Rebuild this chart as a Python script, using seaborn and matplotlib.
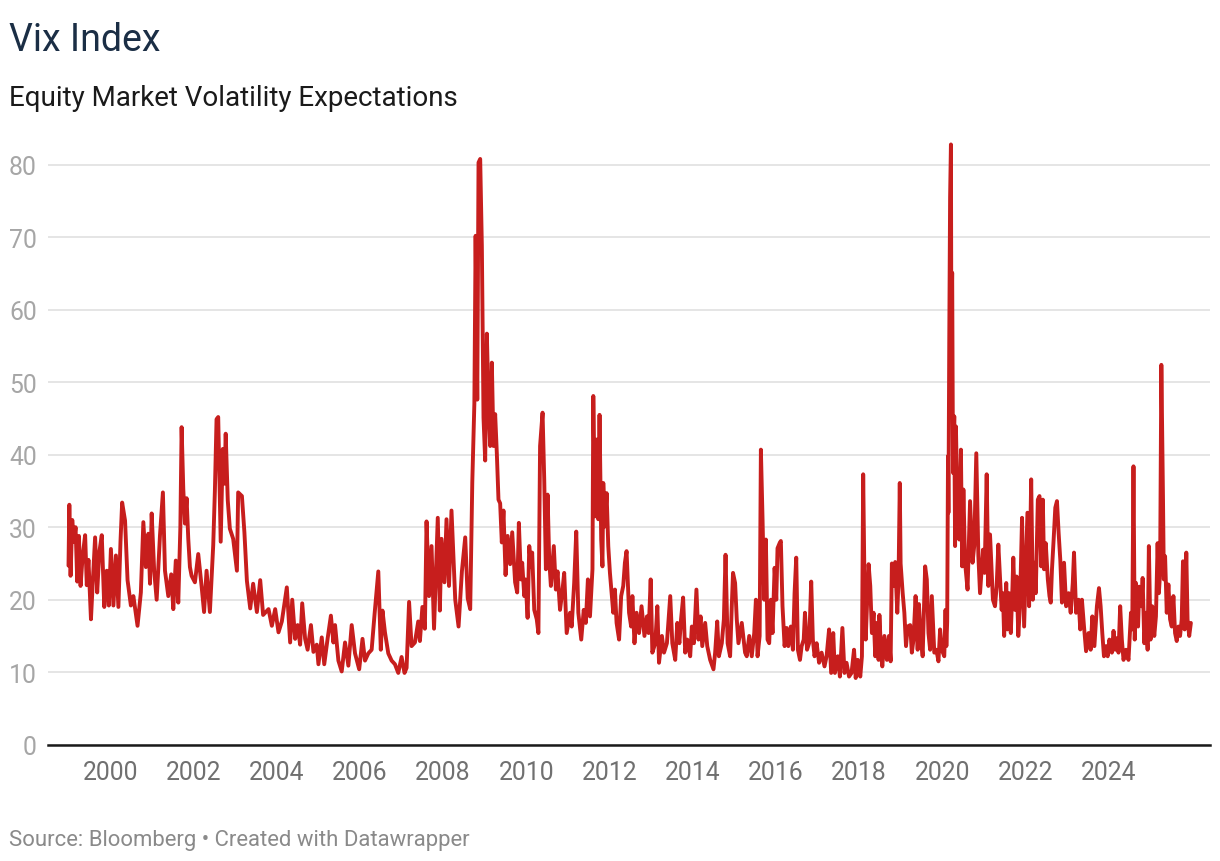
import numpy as np
import pandas as pd
import matplotlib
matplotlib.use("Agg")
import matplotlib.pyplot as plt
import seaborn as sns

# ---- data (decimal year, VIX level) ----
dates_a = [1998.99, 1999.01, 1999.04, 1999.08, 1999.12, 1999.16, 1999.20, 1999.24, 1999.28, 1999.33,
           1999.39, 1999.43, 1999.47, 1999.53, 1999.57, 1999.63, 1999.68, 1999.73, 1999.79, 1999.85,
           1999.91, 1999.96, 2000.01, 2000.07, 2000.13, 2000.19, 2000.24, 2000.28, 2000.35, 2000.41,
           2000.49, 2000.55, 2000.65, 2000.73, 2000.79, 2000.85, 2000.91, 2000.95, 2000.99, 2001.05,
           2001.11, 2001.19, 2001.26, 2001.31, 2001.39, 2001.46, 2001.51, 2001.57, 2001.63, 2001.68,
           2001.71, 2001.75, 2001.79, 2001.83, 2001.87, 2001.91, 2001.95, 2002.03, 2002.11, 2002.19,
           2002.25, 2002.31, 2002.39, 2002.47, 2002.51, 2002.55, 2002.59, 2002.65, 2002.70, 2002.74,
           2002.77, 2002.82, 2002.87, 2002.95, 2003.04, 2003.07, 2003.16, 2003.22, 2003.28, 2003.36,
           2003.43, 2003.52, 2003.60, 2003.67, 2003.80, 2003.88, 2003.96, 2004.04, 2004.12]
vix_a = [24.7, 33.1, 23.3, 31.0, 28.0, 30.0, 22.5, 28.8, 21.9, 26.0,
         28.9, 22.0, 25.5, 17.3, 22.0, 28.6, 21.0, 26.5, 28.9, 19.0,
         24.0, 19.2, 27.0, 19.2, 26.1, 19.0, 28.0, 33.4, 30.9, 22.7,
         19.2, 20.5, 16.4, 21.0, 30.7, 24.5, 29.1, 22.2, 31.9, 24.0,
         20.0, 28.9, 34.8, 24.0, 20.5, 23.5, 18.7, 25.4, 19.6, 30.0,
         43.8, 35.3, 30.5, 34.0, 28.4, 24.5, 23.3, 22.4, 26.3, 21.9,
         18.3, 24.0, 18.3, 27.5, 35.0, 44.9, 45.2, 28.0, 40.8, 36.0,
         42.9, 33.7, 29.8, 28.4, 24.0, 34.8, 34.3, 29.3, 22.6, 18.8,
         22.2, 18.3, 22.7, 17.9, 18.7, 16.4, 18.7, 15.5, 17.0]

dates_b = [2004.24, 2004.32, 2004.37, 2004.44, 2004.50, 2004.56, 2004.61, 2004.68, 2004.74, 2004.82,
           2004.88, 2004.96, 2005.00, 2005.08, 2005.14, 2005.22, 2005.30, 2005.36, 2005.40, 2005.48,
           2005.56, 2005.64, 2005.72, 2005.80, 2005.88, 2005.98, 2006.06, 2006.12, 2006.20, 2006.28,
           2006.35, 2006.44, 2006.50, 2006.54, 2006.60, 2006.68, 2006.76, 2006.84, 2006.92, 2007.00,
           2007.07, 2007.12, 2007.18, 2007.24, 2007.32, 2007.40, 2007.44, 2007.50, 2007.56, 2007.60,
           2007.66, 2007.72, 2007.78, 2007.87, 2007.92, 2007.96, 2008.03, 2008.08, 2008.14, 2008.20,
           2008.29, 2008.37, 2008.45, 2008.53, 2008.59, 2008.65, 2008.70, 2008.75, 2008.78, 2008.82,
           2008.85, 2008.89, 2008.93, 2008.97, 2009.01, 2009.05, 2009.09, 2009.13, 2009.17, 2009.21,
           2009.25, 2009.29, 2009.33, 2009.37, 2009.41, 2009.45, 2009.50, 2009.55, 2009.61, 2009.66,
           2009.73, 2009.78]
vix_b = [21.7, 14.1, 20.0, 14.6, 16.5, 13.8, 19.5, 14.6, 13.1, 16.5,
         12.8, 13.8, 11.1, 14.8, 11.1, 14.6, 17.8, 14.1, 16.5, 11.6,
         10.1, 14.1, 10.9, 16.5, 12.6, 10.4, 14.6, 11.6, 12.6, 13.1,
         18.0, 23.9, 13.1, 18.5, 15.5, 12.6, 11.6, 11.1, 9.9, 12.1,
         9.9, 10.6, 19.7, 13.6, 14.1, 17.0, 14.3, 19.0, 16.0, 30.8,
         20.5, 27.4, 16.0, 31.3, 18.5, 28.4, 22.4, 31.1, 21.9, 32.3,
         20.0, 16.3, 23.9, 28.6, 20.2, 18.7, 36.2, 47.1, 70.2, 47.6,
         80.3, 80.8, 68.8, 45.1, 39.2, 56.7, 47.1, 41.2, 52.7, 41.2,
         45.6, 40.2, 33.8, 33.3, 27.9, 32.3, 23.4, 28.8, 24.9, 29.3,
         22.4, 21.0]

dates_c = [2009.82, 2009.87, 2009.90, 2009.95, 2009.98, 2010.03, 2010.07, 2010.11, 2010.14, 2010.19,
           2010.25, 2010.29, 2010.33, 2010.39, 2010.43, 2010.47, 2010.51, 2010.55, 2010.59, 2010.66,
           2010.71, 2010.75, 2010.81, 2010.87, 2010.91, 2010.97, 2011.05, 2011.09, 2011.15, 2011.20,
           2011.25, 2011.32, 2011.38, 2011.43, 2011.48, 2011.53, 2011.59, 2011.61, 2011.65, 2011.69,
           2011.73, 2011.76, 2011.80, 2011.83, 2011.85, 2011.89, 2011.93, 2011.97, 2012.01, 2012.05,
           2012.09, 2012.13, 2012.17, 2012.23, 2012.28, 2012.33, 2012.37, 2012.41, 2012.47, 2012.52,
           2012.55, 2012.60, 2012.65, 2012.71, 2012.77, 2012.84, 2012.90, 2012.94, 2012.99, 2013.03,
           2013.10, 2013.15, 2013.19, 2013.26, 2013.31, 2013.38, 2013.42, 2013.46, 2013.51, 2013.58,
           2013.63, 2013.68, 2013.72, 2013.77, 2013.82, 2013.87, 2013.94, 2013.98, 2014.03, 2014.09,
           2014.14, 2014.19, 2014.23, 2014.30, 2014.35, 2014.42, 2014.50, 2014.54, 2014.59, 2014.63,
           2014.70, 2014.75, 2014.79, 2014.84, 2014.90, 2014.94, 2014.97, 2015.02, 2015.06, 2015.10,
           2015.18, 2015.26]
vix_c = [30.6, 22.8, 25.1, 20.5, 22.8, 17.5, 27.4, 24.6, 26.5, 18.6,
         17.3, 15.4, 41.2, 45.8, 36.6, 24.2, 34.5, 25.5, 21.9, 27.4,
         21.4, 23.9, 18.6, 21.4, 23.7, 15.4, 18.2, 16.3, 22.3, 29.4,
         18.2, 14.5, 18.6, 16.8, 22.8, 17.7, 24.2, 48.1, 31.5, 42.1,
         31.1, 45.5, 28.3, 24.6, 36.1, 30.1, 34.7, 27.4, 23.7, 20.9,
         18.2, 21.4, 16.8, 14.5, 20.5, 21.9, 25.1, 26.7, 18.2, 16.3,
         20.5, 14.0, 18.2, 15.4, 19.1, 15.0, 17.7, 15.4, 22.8, 12.7,
         14.0, 19.1, 11.3, 15.0, 12.7, 14.0, 17.3, 20.5, 14.0, 11.7,
         16.8, 14.0, 17.3, 20.3, 12.7, 14.5, 12.2, 16.3, 14.0, 21.4,
         14.5, 17.7, 13.6, 16.8, 13.6, 11.7, 10.4, 12.7, 17.0, 12.2,
         14.0, 17.3, 26.2, 14.0, 12.2, 19.1, 23.7, 22.3, 17.3, 14.0,
         16.8, 12.7]

dates_d = [2015.30, 2015.36, 2015.42, 2015.48, 2015.52, 2015.56, 2015.61, 2015.64, 2015.68, 2015.72,
           2015.76, 2015.80, 2015.84, 2015.88, 2015.92, 2015.97, 2016.01, 2016.04, 2016.09, 2016.12,
           2016.16, 2016.21, 2016.26, 2016.30, 2016.36, 2016.41, 2016.45, 2016.49, 2016.53, 2016.58,
           2016.62, 2016.67, 2016.70, 2016.75, 2016.80, 2016.85, 2016.89, 2016.93, 2016.98, 2017.04,
           2017.10, 2017.17, 2017.22, 2017.28, 2017.33, 2017.38, 2017.42, 2017.49, 2017.54, 2017.60,
           2017.65, 2017.70, 2017.76, 2017.82, 2017.88, 2017.92, 2017.97, 2018.03, 2018.07, 2018.10,
           2018.13, 2018.16, 2018.20, 2018.23, 2018.27, 2018.31, 2018.35, 2018.39, 2018.43, 2018.47,
           2018.49, 2018.53, 2018.56, 2018.61, 2018.67, 2018.72, 2018.76, 2018.79, 2018.83, 2018.87,
           2018.92, 2018.95, 2018.98, 2019.00, 2019.05, 2019.09, 2019.13, 2019.17, 2019.23, 2019.27,
           2019.31, 2019.36, 2019.41, 2019.44, 2019.48, 2019.53, 2019.59, 2019.63, 2019.67, 2019.71,
           2019.75, 2019.81, 2019.86, 2019.91, 2019.95, 2019.99, 2020.05, 2020.08, 2020.10]
vix_d = [12.2, 15.0, 12.2, 15.4, 20.0, 12.2, 15.0, 40.7, 31.1, 20.0,
         28.3, 14.5, 14.0, 20.0, 15.4, 24.4, 20.0, 27.1, 27.8, 28.1,
         19.1, 13.6, 16.1, 13.6, 16.3, 13.1, 20.9, 25.8, 13.1, 11.7,
         13.6, 14.5, 18.2, 13.1, 14.0, 22.5, 14.5, 12.2, 14.0, 11.3,
         12.7, 10.8, 12.2, 15.9, 9.9, 15.4, 9.9, 12.2, 9.4, 16.1,
         9.9, 11.3, 9.4, 9.9, 13.1, 9.2, 11.7, 9.4, 12.2, 37.3,
         22.8, 14.5, 20.5, 24.9, 21.9, 15.4, 18.2, 12.2, 16.8, 11.7,
         17.9, 12.7, 10.8, 15.0, 11.7, 15.0, 11.5, 25.0, 21.9, 25.2,
         18.2, 22.8, 36.1, 25.0, 20.9, 18.2, 13.6, 16.3, 16.5, 12.7,
         14.5, 20.5, 13.1, 19.4, 15.4, 12.2, 24.6, 22.8, 15.4, 13.1,
         20.5, 12.7, 13.1, 11.5, 15.9, 13.1, 12.2, 18.6, 13.6]

dates_e = [2020.12, 2020.14, 2020.15, 2020.17, 2020.19, 2020.21, 2020.22, 2020.24, 2020.26, 2020.29,
           2020.31, 2020.33, 2020.37, 2020.41, 2020.45, 2020.48, 2020.51, 2020.55, 2020.61, 2020.67,
           2020.73, 2020.77, 2020.82, 2020.87, 2020.91, 2020.98, 2021.02, 2021.07, 2021.11, 2021.15,
           2021.22, 2021.27, 2021.31, 2021.35, 2021.43]
vix_e = [17.0, 39.8, 32.0, 55.9, 75.5, 82.8, 57.0, 65.1, 37.5, 45.3,
         27.4, 43.9, 31.5, 28.3, 40.7, 24.6, 35.2, 25.1, 21.4, 33.6,
         25.1, 27.4, 40.2, 26.0, 20.9, 26.9, 23.7, 37.3, 21.9, 29.0,
         20.0, 19.1, 21.9, 27.6, 18.6]

dates_f = [2021.46, 2021.49, 2021.54, 2021.57, 2021.61, 2021.65, 2021.69, 2021.71, 2021.75, 2021.79,
           2021.83, 2021.87, 2021.92, 2021.97, 2022.01, 2022.05, 2022.09, 2022.14, 2022.18, 2022.22,
           2022.25, 2022.30, 2022.34, 2022.38, 2022.42, 2022.45, 2022.49, 2022.54, 2022.58, 2022.61,
           2022.64, 2022.68, 2022.72, 2022.76, 2022.80, 2022.84, 2022.88, 2022.93, 2022.98, 2023.04,
           2023.09, 2023.14, 2023.17, 2023.22, 2023.28, 2023.32, 2023.36, 2023.41, 2023.46, 2023.52,
           2023.57, 2023.61, 2023.66, 2023.72, 2023.77, 2023.81, 2023.85, 2023.89, 2023.94, 2023.98,
           2024.02, 2024.08, 2024.12, 2024.16, 2024.20, 2024.24, 2024.28, 2024.32, 2024.36, 2024.42,
           2024.48, 2024.54, 2024.57, 2024.60, 2024.63, 2024.66, 2024.71, 2024.74, 2024.79, 2024.82,
           2024.86, 2024.90, 2024.94, 2024.97, 2025.01, 2025.05, 2025.10, 2025.14, 2025.18, 2025.21,
           2025.24, 2025.27, 2025.31, 2025.33, 2025.36, 2025.40, 2025.44, 2025.48, 2025.52, 2025.56,
           2025.60, 2025.64, 2025.68, 2025.72, 2025.76, 2025.79, 2025.83, 2025.87, 2025.90, 2025.94,
           2025.98]
vix_f = [20.9, 15.0, 22.3, 15.9, 20.9, 15.4, 21.8, 25.8, 18.6, 23.2,
         15.0, 19.1, 31.3, 16.3, 24.2, 32.0, 19.1, 36.6, 20.0, 25.1,
         20.9, 33.8, 34.3, 24.6, 33.8, 24.2, 27.8, 22.8, 20.5, 19.6,
         24.2, 28.3, 32.7, 33.6, 29.2, 25.5, 19.6, 25.1, 19.1, 20.9,
         18.2, 22.3, 26.5, 18.2, 20.0, 15.9, 20.0, 16.3, 12.9, 15.4,
         13.1, 17.7, 13.6, 19.1, 21.6, 19.1, 15.4, 12.2, 13.6, 12.2,
         14.5, 12.7, 15.7, 13.1, 14.7, 12.7, 19.1, 14.5, 11.7, 13.1,
         11.7, 18.2, 15.9, 38.4, 14.5, 22.3, 16.3, 21.8, 19.1, 23.0,
         14.0, 18.2, 13.1, 27.4, 14.5, 19.1, 15.0, 17.7, 27.8, 20.9,
         23.7, 52.4, 33.8, 22.8, 26.0, 18.2, 22.1, 17.3, 16.3, 20.5,
         15.4, 14.3, 16.3, 15.0, 17.3, 25.3, 15.9, 26.5, 17.3, 15.0,
         16.8]

year_ticks = [2000, 2002, 2004, 2006, 2008, 2010, 2012, 2014, 2016, 2018, 2020, 2022, 2024]
value_ticks = [0, 10, 20, 30, 40, 50, 60, 70, 80]

title = "Vix Index"
subtitle = "Equity Market Volatility Expectations"
footer = "Source: Bloomberg \u2022 Created with Datawrapper"

# ---- build table ----
df = pd.DataFrame({
    "date": dates_a + dates_b + dates_c + dates_d + dates_e + dates_f,
    "vix": vix_a + vix_b + vix_c + vix_d + vix_e + vix_f,
})

sns.set_theme(style="white")
plt.rcParams["font.family"] = ["Roboto", "DejaVu Sans"]

W, H = 1220, 862
fig = plt.figure(figsize=(W / 100, H / 100), dpi=100)
ax = fig.add_axes([48 / W, 1 - 745.7 / H, 1162 / W, (745.7 - 129.5) / H])

sns.lineplot(data=df, x="date", y="vix", ax=ax, color="#c71e1d",
             linewidth=2.8, estimator=None, sort=True)
for l in ax.lines:
    l.set_solid_joinstyle("round")
    l.set_solid_capstyle("round")

ax.set_xlim(1998.497, 2026.44)
ax.set_ylim(0, 85)
ax.set_xticks(year_ticks)
ax.set_xticklabels([str(y) for y in year_ticks])
ax.set_yticks(value_ticks)
ax.set_yticklabels([str(v) for v in value_ticks])
ax.set_xlabel("")
ax.set_ylabel("")

for s in ["top", "right", "left"]:
    ax.spines[s].set_visible(False)
ax.spines["bottom"].set_color("#1a1a1a")
ax.spines["bottom"].set_linewidth(1.8)
ax.spines["bottom"].set_zorder(5)

ax.yaxis.grid(True, color="#e3e3e3", linewidth=1.3)
ax.xaxis.grid(False)
ax.set_axisbelow(True)

ax.tick_params(axis="x", length=0, pad=11, labelsize=17.8, labelcolor="#707070")
ax.tick_params(axis="y", length=0, pad=8, labelsize=17.8, labelcolor="#a6a6a6")
for lab in ax.get_yticklabels():
    lab.set_horizontalalignment("right")

fig.text(9 / W, 1 - 51 / H, title, fontsize=27, color="#1b2e45",
         ha="left", va="baseline")
fig.text(9 / W, 1 - 106 / H, subtitle, fontsize=20, color="#1a1a1a",
         ha="left", va="baseline")
fig.text(9 / W, 1 - 846 / H, footer, fontsize=15.9, color="#8a8a8a",
         ha="left", va="baseline")

fig.savefig("out.png", dpi=100)
